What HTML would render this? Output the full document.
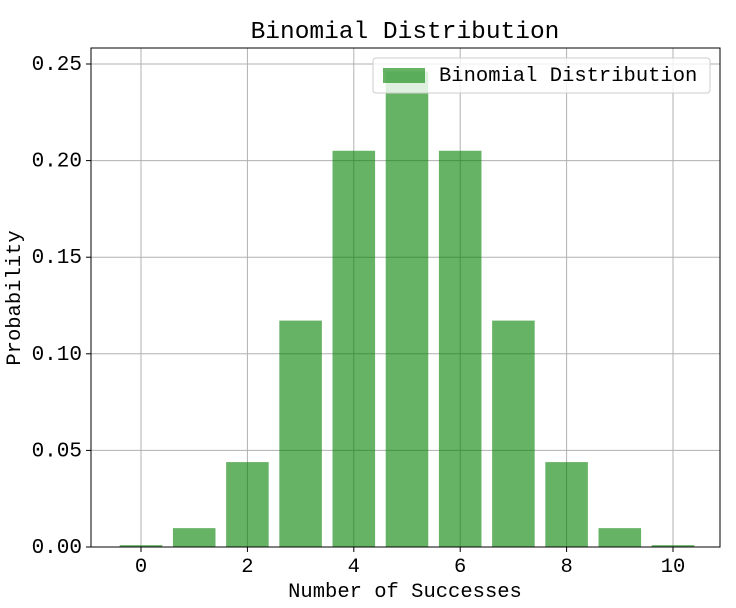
<!DOCTYPE html>
<html><head><meta charset="utf-8"><style>
body{margin:0;background:#fff;}
svg{display:block;font-family:"Liberation Mono","DejaVu Sans Mono",monospace;}
</style></head><body>
<svg id="chart" width="736" height="608" xmlns="http://www.w3.org/2000/svg">
<rect width="736" height="608" fill="#fff"/>
<g id="grid"></g>
<g id="bars"></g>
<rect x="91" y="48" width="629" height="499" fill="none" stroke="#000" stroke-width="1"/>
<g id="xticks"></g>
<g id="yticks"></g>
<text x="405" y="38" font-size="24.5" text-anchor="middle">Binomial Distribution</text>
<text x="405" y="597" font-size="20.5" text-anchor="middle">Number of Successes</text>
<text x="20" y="298" font-size="20.5" text-anchor="middle" transform="rotate(-90 20 298)">Probability</text>
<g>
<rect x="373" y="58" width="337" height="35" rx="3" fill="#fff" fill-opacity="0.8" stroke="#ccc"/>
<rect x="383" y="68" width="42" height="15" fill="#008000" fill-opacity="0.6"/>
<text x="439" y="81" font-size="20.5">Binomial Distribution</text>
</g>
</svg>
<script>
const categories=[0,1,2,3,4,5,6,7,8,9,10];
const values=[0.000977,0.009766,0.043945,0.117188,0.205078,0.246094,0.205078,0.117188,0.043945,0.009766,0.000977];
const xTicks=[0,2,4,6,8,10];
const yTicks=[0,0.05,0.10,0.15,0.20,0.25];
const yTickLabels=["0.00","0.05","0.10","0.15","0.20","0.25"];
const NS="http://www.w3.org/2000/svg";
const X=v=>141+v*53.2;
const Y=v=>547-v*1932;
function mk(t,a,p){const e=document.createElementNS(NS,t);for(const k in a)e.setAttribute(k,a[k]);p.appendChild(e);return e;}
const grid=document.getElementById('grid'),bars=document.getElementById('bars'),xt=document.getElementById('xticks'),yt=document.getElementById('yticks');
xTicks.forEach(v=>{
  const g=mk('line',{x1:X(v),x2:X(v),y1:48,y2:547,stroke:'#b0b0b0','stroke-width':1},grid);
  
  
  mk('line',{x1:X(v),x2:X(v),y1:547,y2:552,stroke:'#000'},xt);
  const t=mk('text',{x:X(v),y:572,'font-size':20.5,'text-anchor':'middle'},xt);t.textContent=v;
  
  
});
yTicks.forEach((v,i)=>{
  const g=mk('line',{x1:91,x2:720,y1:Y(v),y2:Y(v),stroke:'#b0b0b0','stroke-width':1},grid);
  
  
  mk('line',{x1:86,x2:91,y1:Y(v),y2:Y(v),stroke:'#000'},yt);
  const t=mk('text',{x:82,y:Y(v)+6,'font-size':21,'text-anchor':'end'},yt);t.textContent=yTickLabels[i];
  
  
});
categories.forEach((c,i)=>{
  const w=0.8*53.2;
  const r=mk('rect',{x:X(c)-w/2,y:Y(values[i]),width:w,height:Y(0)-Y(values[i]),fill:'#008000','fill-opacity':0.6},bars);
  
  
});
</script>
</body></html>
